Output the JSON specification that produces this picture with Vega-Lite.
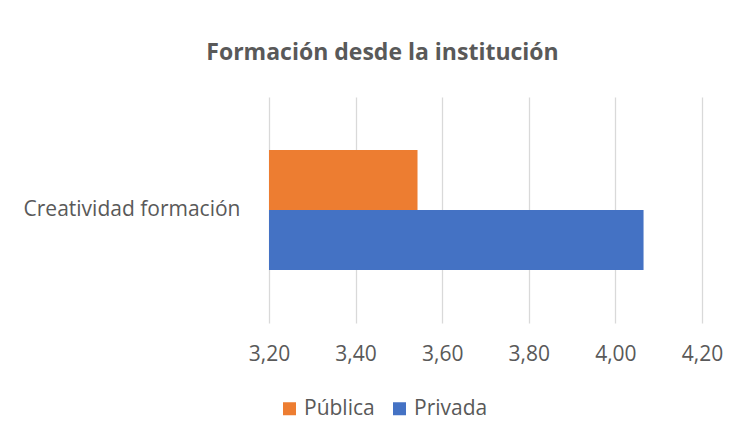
{
  "$schema": "https://vega.github.io/schema/vega-lite/v6.json",
  "autosize": {"type": "none"},
  "padding": {"left": 269, "top": 97, "right": 41, "bottom": 120},
  "width": 433,
  "height": 226,
  "background": "white",
  "title": {
    "text": "Formación desde la institución",
    "font": "Open Sans",
    "fontSize": 23,
    "fontWeight": "bold",
    "color": "#595959",
    "anchor": "middle",
    "dx": -103,
    "offset": 32
  },
  "data": {
    "values": [
      {"categoria": "Creatividad formación", "tipo": "Pública", "valor": 3.543},
      {"categoria": "Creatividad formación", "tipo": "Privada", "valor": 4.065}
    ]
  },
  "mark": {"type": "bar", "clip": true},
  "encoding": {
    "y": {
      "field": "categoria",
      "type": "nominal",
      "scale": {"paddingInner": 0, "paddingOuter": 0.4417},
      "axis": {
        "title": null,
        "domain": false,
        "ticks": false,
        "labelFont": "Open Sans",
        "labelFontSize": 21,
        "labelColor": "#595959",
        "labelPadding": 29,
        "labelLimit": 300
      }
    },
    "yOffset": {
      "field": "tipo",
      "type": "nominal",
      "scale": {"domain": ["Pública", "Privada"], "paddingInner": 0, "paddingOuter": 0}
    },
    "x": {
      "field": "valor",
      "type": "quantitative",
      "scale": {"domain": [3.2, 4.2], "zero": false, "nice": false},
      "axis": {
        "title": null,
        "values": [3.2, 3.4, 3.6, 3.8, 4.0, 4.2],
        "labelExpr": "replace(format(datum.value, '.2f'), '.', ',')",
        "domain": false,
        "ticks": false,
        "grid": true,
        "gridColor": "#D9D9D9",
        "gridWidth": 1.3,
        "labelFont": "Open Sans",
        "labelFontSize": 21,
        "labelColor": "#595959",
        "labelPadding": 20,
        "labelFlush": false
      }
    },
    "color": {
      "field": "tipo",
      "type": "nominal",
      "scale": {"domain": ["Pública", "Privada"], "range": ["#ED7D31", "#4472C4"]},
      "legend": {
        "title": null,
        "orient": "none",
        "legendX": 10,
        "legendY": 301,
        "direction": "horizontal",
        "symbolType": "square",
        "symbolSize": 169,
        "symbolStrokeWidth": 0,
        "labelFont": "Open Sans",
        "labelFontSize": 21,
        "labelColor": "#595959",
        "columnPadding": 14,
        "labelOffset": 4
      }
    }
  },
  "config": {"view": {"stroke": null}}
}
